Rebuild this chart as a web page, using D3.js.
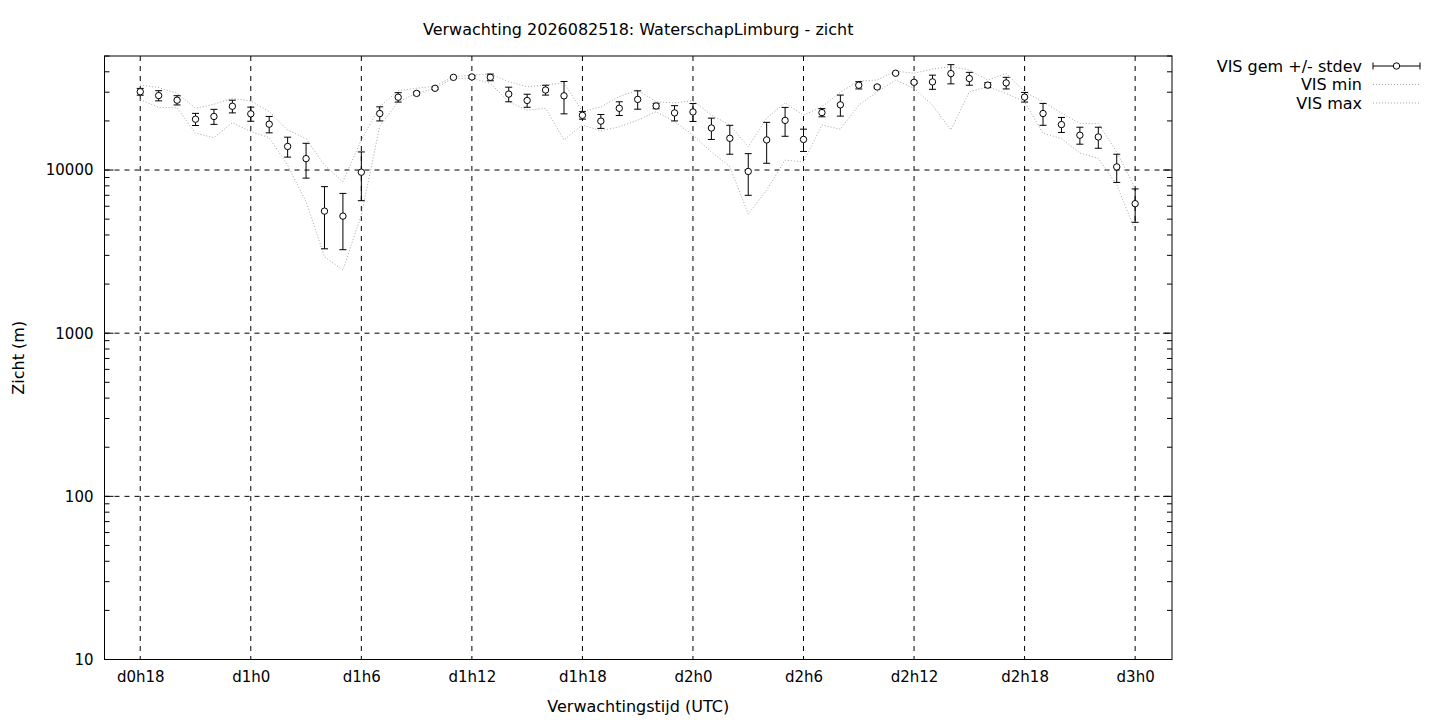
<!DOCTYPE html>
<html>
<head>
<meta charset="utf-8">
<script src="https://cdn.jsdelivr.net/npm/d3@7"></script>
<style>
  body { margin: 0; background: #fff; }
  svg text { font-family: "DejaVu Sans", sans-serif; font-size: 16px; fill: #000; }
</style>
</head>
<body>
<svg id="chart" width="1440" height="720"></svg>
<script>
// forecast hours since d0h0
const hours = [18, 19, 20, 21, 22, 23, 24, 25, 26, 27, 28, 29, 30, 31, 32, 33, 34, 35, 36,
  37, 38, 39, 40, 41, 42, 43, 44, 45, 46, 47, 48, 49, 50, 51, 52, 53, 54, 55, 56, 57, 58,
  59, 60, 61, 62, 63, 64, 65, 66, 67, 68, 69, 70, 71, 72]
const visMean = [30200, 28600, 26800, 20500, 21300, 24600, 22100, 19100, 13950, 11750, 5600, 5220, 9700,
  22200, 27950, 29500, 31700, 37000, 37200, 37000, 29200, 26700, 30950, 28500, 21650, 19950, 23900,
  27100, 24700, 22400, 22700, 18100, 15650, 9800, 15300, 20150, 15400, 22500, 25100, 33100, 32300,
  39200, 34500, 34700, 39000, 36400, 33150, 34200, 28000, 22200, 19000, 16350, 15950, 10450, 6220]
const visStdev = [1450, 2050, 1750, 1750, 2250, 2200, 2200, 2200, 1950, 2830, 2310, 1970, 3210,
  2200, 1850, 600, 500, 400, 800, 1750, 3000, 2450, 2150, 6400, 1150, 1950, 2300,
  3500, 950, 2400, 2850, 2700, 3150, 2800, 4300, 4050, 2400, 1300, 3700, 1700, 500,
  500, 600, 3450, 5250, 3300, 1150, 2800, 1900, 3400, 2000, 1950, 2350, 2050, 1440]
const visMin = [27000, 24200, 24100, 16800, 15800, 19500, 17200, 15800, 10700, 6390, 2940, 2440, 5300,
  18600, 26200, 29500, 31700, 36500, 36500, 34000, 26200, 23300, 23900, 15300, 18900, 17400, 18400,
  20200, 22800, 19800, 16400, 12900, 10500, 5370, 7540, 11500, 11200, 18900, 17800, 25000, 30200,
  35600, 31700, 25000, 17600, 30200, 32400, 29500, 26200, 16800, 15600, 12700, 11800, 8090, 4290]
const visMax = [33200, 32000, 29500, 23900, 25300, 27500, 26500, 22800, 17600, 15600, 10700, 8480, 15300,
  24500, 30600, 31700, 32700, 37300, 38200, 38800, 34800, 32400, 33200, 34300, 22800, 24400, 28200,
  30900, 26200, 25800, 26600, 21700, 18900, 13900, 20800, 25800, 21700, 24400, 30000, 35100, 35600,
  40400, 39200, 41600, 43000, 41000, 35600, 39200, 30200, 26200, 22300, 19300, 19300, 12900, 7700]
const xTickHours = [18, 24, 30, 36, 42, 48, 54, 60, 66, 72]
const yTickValues = [10, 100, 1000, 10000]
const legendLabels = ["VIS gem +/- stdev", "VIS min", "VIS max"]
const titleText = "Verwachting 2026082518: WaterschapLimburg - zicht"

const svg = d3.select("#chart")
const plotLeft = 104.5, plotRight = 1172, plotTop = 56, plotBottom = 659.5
const dotted = "#a6a6a6"

const x = d3.scaleLinear().domain([16.06, 74]).range([plotLeft, plotRight])
const y = d3.scaleLog().domain([10, 50000]).range([plotBottom, plotTop])

function hourLabel(h) {
  return "d" + Math.floor(h / 24) + "h" + (h % 24)
}

// grid
svg.append("g").selectAll("line").data(xTickHours).join("line")
  .attr("x1", d => x(d)).attr("x2", d => x(d))
  .attr("y1", plotTop).attr("y2", plotBottom)
  .attr("stroke", "#000").attr("stroke-width", 1).attr("stroke-dasharray", "5,5")
svg.append("g").selectAll("line").data(yTickValues.slice(1)).join("line")
  .attr("x1", plotLeft).attr("x2", plotRight)
  .attr("y1", d => y(d)).attr("y2", d => y(d))
  .attr("stroke", "#000").attr("stroke-width", 1).attr("stroke-dasharray", "5,5")

// minor log ticks on both sides
const minor = y.ticks().filter(v => yTickValues.indexOf(v) < 0)
const tickG = svg.append("g")
tickG.selectAll(".ml").data(minor).join("line").attr("class", "ml")
  .attr("x1", plotLeft).attr("x2", plotLeft + 5)
  .attr("y1", d => y(d)).attr("y2", d => y(d))
  .attr("stroke", "#000")
tickG.selectAll(".mr").data(minor).join("line").attr("class", "mr")
  .attr("x1", plotRight - 5).attr("x2", plotRight)
  .attr("y1", d => y(d)).attr("y2", d => y(d))
  .attr("stroke", "#000")
tickG.selectAll(".jl").data(yTickValues).join("line").attr("class", "jl")
  .attr("x1", plotLeft).attr("x2", plotLeft + 9)
  .attr("y1", d => y(d)).attr("y2", d => y(d))
  .attr("stroke", "#000")
tickG.selectAll(".jr").data(yTickValues).join("line").attr("class", "jr")
  .attr("x1", plotRight - 9).attr("x2", plotRight)
  .attr("y1", d => y(d)).attr("y2", d => y(d))
  .attr("stroke", "#000")

// tick labels through d3 axes, domain path removed
const yAxis = svg.append("g").attr("transform", `translate(${plotLeft},0)`)
  .call(d3.axisLeft(y).tickValues(yTickValues).tickFormat(d3.format("d")).tickSize(0).tickPadding(11))
yAxis.select(".domain").remove()
yAxis.selectAll("text").style("font-family", "DejaVu Sans").style("font-size", "15px")

const xAxis = svg.append("g").attr("transform", `translate(0,${plotBottom})`)
  .call(d3.axisBottom(x).tickValues(xTickHours).tickFormat(hourLabel).tickSize(0).tickPadding(12))
xAxis.select(".domain").remove()
xAxis.selectAll("text").style("font-family", "DejaVu Sans").style("font-size", "15px")

// min / max lines
const line = d3.line().x((d, i) => x(hours[i])).y(d => y(d))
svg.append("path").datum(visMin).attr("d", line)
  .attr("fill", "none").attr("stroke", dotted).attr("stroke-width", 1).attr("stroke-dasharray", "1,2")
svg.append("path").datum(visMax).attr("d", line)
  .attr("fill", "none").attr("stroke", dotted).attr("stroke-width", 1).attr("stroke-dasharray", "1,2")

// error bars
const bars = svg.append("g").selectAll("g").data(hours).join("g")
bars.append("line")
  .attr("x1", d => x(d)).attr("x2", d => x(d))
  .attr("y1", (d, i) => y(visMean[i] + visStdev[i]))
  .attr("y2", (d, i) => y(visMean[i] - visStdev[i]))
  .attr("stroke", "#000")
bars.append("line")
  .attr("x1", d => x(d) - 3.5).attr("x2", d => x(d) + 3.5)
  .attr("y1", (d, i) => y(visMean[i] + visStdev[i]))
  .attr("y2", (d, i) => y(visMean[i] + visStdev[i]))
  .attr("stroke", "#000")
bars.append("line")
  .attr("x1", d => x(d) - 3.5).attr("x2", d => x(d) + 3.5)
  .attr("y1", (d, i) => y(visMean[i] - visStdev[i]))
  .attr("y2", (d, i) => y(visMean[i] - visStdev[i]))
  .attr("stroke", "#000")
bars.append("circle")
  .attr("cx", d => x(d)).attr("cy", (d, i) => y(visMean[i]))
  .attr("r", 3.2)
  .attr("fill", "#fff").attr("stroke", "#000")

// frame
svg.append("rect")
  .attr("x", plotLeft).attr("y", plotTop)
  .attr("width", plotRight - plotLeft).attr("height", plotBottom - plotTop)
  .attr("fill", "none").attr("stroke", "#000")

// title and axis titles
svg.append("text").attr("x", (plotLeft + plotRight) / 2).attr("y", 35)
  .attr("text-anchor", "middle").text(titleText)
svg.append("text").attr("x", (plotLeft + plotRight) / 2).attr("y", 712)
  .attr("text-anchor", "middle").text("Verwachtingstijd (UTC)")
svg.append("text")
  .attr("transform", `translate(18.5,${(plotTop + plotBottom) / 2}) rotate(-90)`)
  .attr("text-anchor", "middle").attr("dy", "0.35em").text("Zicht (m)")

// legend
const legend = svg.append("g")
const rowY = [66, 84.5, 103]
legend.selectAll("text").data(legendLabels).join("text")
  .attr("x", 1362).attr("y", (d, i) => rowY[i]).attr("dy", "0.35em")
  .attr("text-anchor", "end").text(d => d)
legend.append("line").attr("x1", 1373).attr("x2", 1420).attr("y1", rowY[0]).attr("y2", rowY[0]).attr("stroke", "#000")
legend.append("line").attr("x1", 1373).attr("x2", 1373).attr("y1", rowY[0] - 3.5).attr("y2", rowY[0] + 3.5).attr("stroke", "#000")
legend.append("line").attr("x1", 1420).attr("x2", 1420).attr("y1", rowY[0] - 3.5).attr("y2", rowY[0] + 3.5).attr("stroke", "#000")
legend.append("circle").attr("cx", 1396.5).attr("cy", rowY[0]).attr("r", 3.2).attr("fill", "#fff").attr("stroke", "#000")
legend.selectAll(".ls").data(rowY.slice(1)).join("line").attr("class", "ls")
  .attr("x1", 1373).attr("x2", 1420).attr("y1", d => d).attr("y2", d => d)
  .attr("stroke", dotted).attr("stroke-dasharray", "1,2")
</script>
</body>
</html>
